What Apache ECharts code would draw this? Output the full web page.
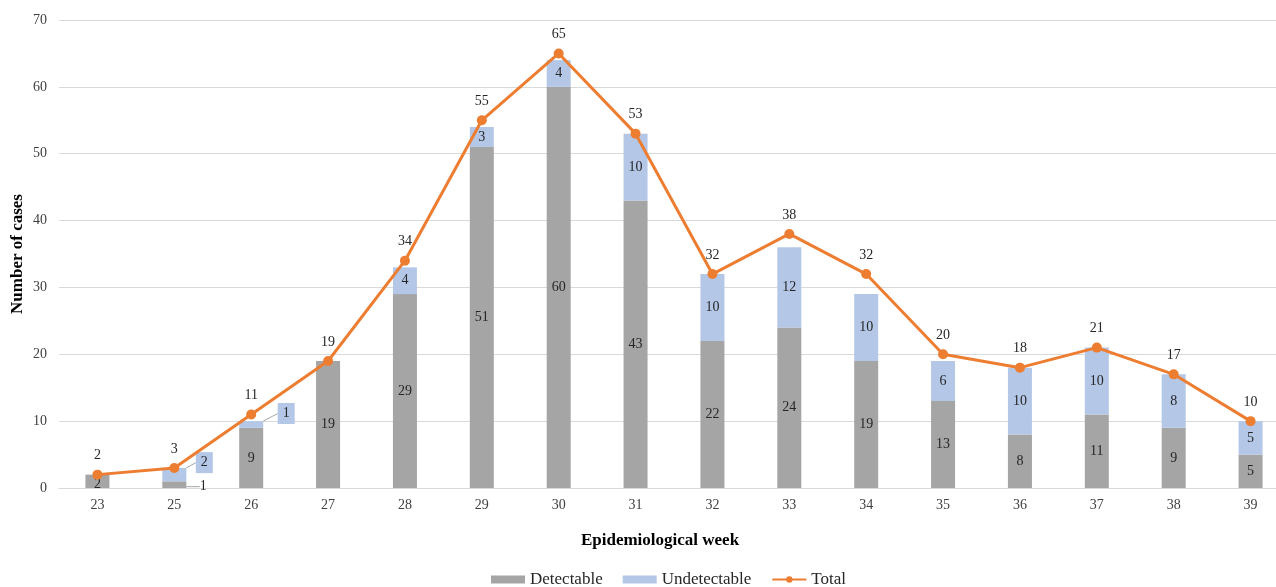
<!DOCTYPE html>
<html><head><meta charset="utf-8">
<script src="https://cdn.jsdelivr.net/npm/echarts@6/dist/echarts.min.js"></script>
<style>html,body{margin:0;padding:0;background:#fff}#c{width:1276px;height:587px}</style>
</head><body><div id="c"></div>
<script>
const weeks = ['23','25','26','27','28','29','30','31','32','33','34','35','36','37','38','39'];
const detectable = [2,1,9,19,29,51,60,43,22,24,19,13,8,11,9,5];
const undetectable = [0,2,1,0,4,3,4,10,10,12,10,6,10,10,8,5];
const total = [2,3,11,19,34,55,65,53,32,38,32,20,18,21,17,10];

const FONT = 'Liberation Serif';
const chart = echarts.init(document.getElementById('c'));

const detData = detectable.map((v,i)=> i===1 ? {value:v, labelLine:{show:true}} : v);
const undData = undetectable.map((v,i)=>{
  if (v===0) return {value:v, label:{show:false}};
  if (i===1 || i===2) return {value:v, labelLine:{show:true}, label:{backgroundColor:'#B4C7E7', padding:[4,5,3,5]}};
  return v;
});

chart.setOption({
  animation:false,
  textStyle:{fontFamily:FONT},
  grid:{left:59, top:20, width:1230, height:468, outerBoundsMode:'none', containLabel:false},
  legend:{
    top:566, left:486, itemWidth:34, itemHeight:8, itemGap:20,
    textStyle:{fontFamily:FONT, fontSize:17, color:'#262626'},
    data:[{name:'Detectable', icon:'rect'},{name:'Undetectable', icon:'rect'},{name:'Total'}]
  },
  xAxis:{
    type:'category', data:weeks,
    name:'Epidemiological week', nameLocation:'middle', nameGap:44,
    nameTextStyle:{fontFamily:FONT, fontWeight:'bold', fontSize:17, color:'#000', padding:[0,28,0,0]},
    axisLine:{lineStyle:{color:'#D9D9D9', width:1}},
    axisTick:{show:false},
    axisLabel:{fontFamily:FONT, fontSize:14, color:'#404040', margin:10}
  },
  yAxis:{
    type:'value', min:0, max:70, interval:10,
    name:'Number of cases', nameLocation:'middle', nameGap:33, nameMoveOverlap:false,
    nameTextStyle:{fontFamily:FONT, fontWeight:'bold', fontSize:17, color:'#000'},
    axisLine:{show:false}, axisTick:{show:false},
    axisLabel:{fontFamily:FONT, fontSize:14, color:'#404040', margin:12},
    splitLine:{lineStyle:{color:'#D9D9D9', width:1}}
  },
  series:[
    {
      name:'Detectable', type:'bar', stack:'a', barWidth:24, data:detData,
      itemStyle:{color:'#A5A5A5'},
      label:{show:true, position:'inside', fontFamily:FONT, fontSize:14, color:'#262626'},
      labelLine:{show:false, lineStyle:{color:'#A5A5A5', width:1}},
      labelLayout:(p)=>{
        if (p.dataIndex===1) return {dx:29, dy:2};
        if (p.dataIndex===0) return {dy:3};
        return {};
      }
    },
    {
      name:'Undetectable', type:'bar', stack:'a', barWidth:24, data:undData,
      itemStyle:{color:'#B4C7E7'},
      label:{show:true, position:'inside', fontFamily:FONT, fontSize:14, color:'#262626'},
      labelLine:{show:false, lineStyle:{color:'#A5A5A5', width:1}},
      labelLayout:(p)=>{
        if (p.dataIndex===1) return {dx:30, dy:-12};
        if (p.dataIndex===2) return {dx:35, dy:-11};
        return {};
      }
    },
    {
      name:'Total', type:'line', data:total, z:5,
      symbol:'circle', symbolSize:10,
      lineStyle:{color:'#ED7D31', width:3},
      itemStyle:{color:'#ED7D31'},
      label:{show:true, position:'top', distance:7, fontFamily:FONT, fontSize:14, color:'#262626'}
    }
  ]
});
</script></body></html>
